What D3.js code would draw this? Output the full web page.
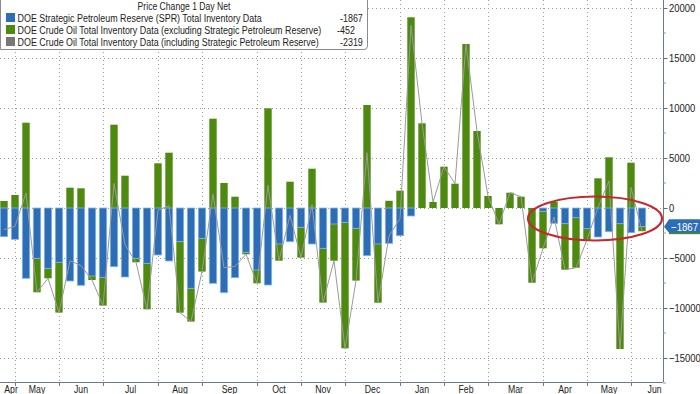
<!DOCTYPE html>
<html>
<head>
<meta charset="utf-8">
<script src="https://cdn.jsdelivr.net/npm/d3@7"></script>
<style>
  body { margin: 0; background: #fff; }
  svg { display: block; }
  text { font-family: "Liberation Sans", Arial, sans-serif; fill: #222; }
</style>
</head>
<body>
<svg id="graphic-svg" width="700" height="394"></svg>
<script>
// weekly observations (week ending)
var weeks = ["2022-04-29",
  "2022-05-06","2022-05-13","2022-05-20","2022-05-27",
  "2022-06-03","2022-06-10","2022-06-17","2022-06-24",
  "2022-07-01","2022-07-08","2022-07-15","2022-07-22","2022-07-29",
  "2022-08-05","2022-08-12","2022-08-19","2022-08-26",
  "2022-09-02","2022-09-09","2022-09-16","2022-09-23","2022-09-30",
  "2022-10-07","2022-10-14","2022-10-21","2022-10-28",
  "2022-11-04","2022-11-11","2022-11-18","2022-11-25",
  "2022-12-02","2022-12-09","2022-12-16","2022-12-23","2022-12-30",
  "2023-01-06","2023-01-13","2023-01-20","2023-01-27",
  "2023-02-03","2023-02-10","2023-02-17","2023-02-24",
  "2023-03-03","2023-03-10","2023-03-17","2023-03-24","2023-03-31",
  "2023-04-07","2023-04-14","2023-04-21","2023-04-28",
  "2023-05-05","2023-05-12","2023-05-19","2023-05-26",
  "2023-06-02","2023-06-09"];

// SPR (blue)
var spr = [-2870,
  -3130,-7030,-5030,-6030,
  -5430,-7300,-7730,-6800,
  -6930,-5870,-6900,-5030,-5530,
  -4700,-5300,-3370,-8030,
  -3030,-7530,-8470,-6970,-4430,
  -6200,-7700,-3600,-3370,
  -1930,-3600,-4030,-1600,
  -1430,-2030,-4770,-3600,-3530,
  -2770,-800,0,0,
  0,0,0,0,
  0,0,0,0,0,
  -330,-1530,-1570,-970,
  -2070,-2900,-2370,-1570,
  -2470,-1867];

// crude excluding SPR (green)
var crudeEx = [700,
  1300,8530,-3400,-1000,
  -5030,2030,1970,-400,
  -2830,8330,3230,-400,-4600,
  4470,5530,-7100,-3330,
  -3330,8930,2500,1130,-200,
  -1330,9970,-1670,2630,
  -3030,3930,-5430,-3670,
  -12600,-5230,10300,-5870,720,
  1730,19070,8470,600,
  4130,2430,16400,7700,
  1200,-1630,1530,1130,-7470,
  -3700,630,-4600,-5000,
  -1100,2970,5070,-12530,
  4530,-452];

// crude including SPR (gray line)
var crudeIncl = [-2170,
  -1830,1500,-8430,-7030,
  -10460,-5270,-5760,-7200,
  -9760,2460,-3670,-5430,-10130,
  -230,230,-10470,-11360,
  -6360,1400,-5970,-5840,-4630,
  -7530,2270,-5270,-740,
  -4960,330,-9460,-5270,
  -14030,-7260,5530,-9470,-2810,
  -1040,18270,8470,600,
  4130,2430,16400,7700,
  1200,-1630,1530,1130,-7470,
  -4030,-900,-6170,-5970,
  -3170,70,2700,-14100,
  2060,-2319];

var yTicks = [-15000, -10000, -5000, 0, 5000, 10000, 15000, 20000];
var legendNames = ["DOE Strategic Petroleum Reserve (SPR) Total Inventory Data",
  "DOE Crude Oil Total Inventory Data (excluding Strategic Petroleum Reserve)",
  "DOE Crude Oil Total Inventory Data (including Strategic Petroleum Reserve)"];
var legendValues = ["-1867", "-452", "-2319"];
var legendTitle = "Price Change 1 Day Net";

// narrow text: no condensed font installed, so squeeze horizontally
function narrowText(parent, tx, ty, size, sx, str) {
  return parent.append("text")
    .attr("transform", "translate(" + tx + "," + ty + ") scale(" + sx + ",1)")
    .style("font-size", size + "px")
    .text(str);
}

function init() {
  var svg = d3.select("#graphic-svg");
  var plot = { left: 0, right: 663, top: 0, bottom: 382 };
  var blue = "#2d6db5", blueEdge = "#86b6e6", green = "#4f8a10", gray = "#9a9a9a";

  var parse = d3.timeParse("%Y-%m-%d");
  var data = weeks.map(function(w, i) {
    return { date: parse(w), key: w, spr: spr[i], crude: crudeEx[i], total: crudeIncl[i] };
  });

  var x = d3.scalePoint().domain(weeks).range([4, 642]);
  var step = x.step();
  var barW = 7.4;
  var y = d3.scaleLinear().domain([-17400, 20800]).range([plot.bottom, plot.top]);

  //////////////////////////////////////////////////////////////////
  // gridlines
  var monthStarts = [];
  data.forEach(function(d, i) {
    if (i == 0 || d.date.getMonth() != data[i-1].date.getMonth()) monthStarts.push(i);
  });

  svg.selectAll(".hgrid")
     .data(yTicks)
     .enter()
     .append("line")
     .attr("x1", plot.left).attr("x2", plot.right)
     .attr("y1", function(d) { return Math.round(y(d)) + 0.5; })
     .attr("y2", function(d) { return Math.round(y(d)) + 0.5; })
     .attr("stroke", "#9a9a9a").attr("stroke-dasharray", "1,3");

  svg.selectAll(".vgrid")
     .data(monthStarts.slice(1))
     .enter()
     .append("line")
     .attr("x1", function(i) { return Math.round(x(weeks[i])) + 0.5; })
     .attr("x2", function(i) { return Math.round(x(weeks[i])) + 0.5; })
     .attr("y1", plot.top).attr("y2", plot.bottom)
     .attr("stroke", "#9a9a9a").attr("stroke-dasharray", "1,3");

  //////////////////////////////////////////////////////////////////
  // stacked bars (diverging)
  var stack = d3.stack().keys(["spr", "crude"]).offset(d3.stackOffsetDiverging);
  var series = stack(data);
  var colors = { spr: blue, crude: green };

  // green first, blue on top
  [series[1], series[0]].forEach(function(s) {
    svg.append("g")
       .selectAll("rect")
       .data(s)
       .enter()
       .append("rect")
       .attr("x", function(d) { return x(d.data.key) - barW / 2; })
       .attr("width", barW)
       .attr("y", function(d) { return y(Math.max(d[0], d[1])); })
       .attr("height", function(d) { return Math.abs(y(d[0]) - y(d[1])); })
       .attr("fill", colors[s.key])
       .attr("stroke", s.key == "spr" ? blueEdge : "none")
       .attr("stroke-width", 0.8);
  });

  // total line
  var line = d3.line()
    .x(function(d) { return x(d.key); })
    .y(function(d) { return y(d.total); });
  svg.append("path")
     .datum(data)
     .attr("d", line)
     .attr("fill", "none")
     .attr("stroke", gray)
     .attr("stroke-width", 1);

  //////////////////////////////////////////////////////////////////
  // axes
  svg.append("line")
     .attr("x1", plot.left).attr("x2", plot.right)
     .attr("y1", plot.bottom + 0.5).attr("y2", plot.bottom + 0.5)
     .attr("stroke", "#6b7b8c");
  svg.append("line")
     .attr("x1", plot.right + 0.5).attr("x2", plot.right + 0.5)
     .attr("y1", plot.top).attr("y2", plot.bottom)
     .attr("stroke", "#6b7b8c");

  var yAxis = d3.axisRight(y).tickValues(yTicks).tickSize(4).tickFormat("");
  var gy = svg.append("g").attr("transform", "translate(" + (plot.right + 0.5) + ",0)").call(yAxis);
  gy.select(".domain").remove();
  gy.selectAll(".tick line").attr("stroke", "#4f6f90");
  yTicks.forEach(function(v) {
    narrowText(svg, plot.right + 6, y(v) + 4, 11, 0.86, d3.format("d")(v));
  });

  // minor ticks
  var minor = d3.range(-17500, 20001, 2500).filter(function(v) { return yTicks.indexOf(v) < 0 && y(v) > 2; });
  svg.selectAll(".minor")
     .data(minor)
     .enter()
     .append("line")
     .attr("x1", plot.right).attr("x2", plot.right + 3)
     .attr("y1", function(d) { return y(d); }).attr("y2", function(d) { return y(d); })
     .attr("stroke", "#8aa0b5");

  // month ticks + labels
  svg.selectAll(".xtick")
     .data(monthStarts.slice(1))
     .enter()
     .append("line")
     .attr("x1", function(i) { return Math.round(x(weeks[i])) + 0.5; })
     .attr("x2", function(i) { return Math.round(x(weeks[i])) + 0.5; })
     .attr("y1", plot.bottom).attr("y2", plot.bottom + 4)
     .attr("stroke", "#6b7b8c");

  var fmtMonth = d3.timeFormat("%b");
  monthStarts.forEach(function(i, k) {
    var start = k == 0 ? plot.left : x(weeks[i]);
    var end = k < monthStarts.length - 1 ? x(weeks[monthStarts[k+1]]) : x(weeks[i]) + step * 4.3;
    var cx = Math.max((start + end) / 2, 11);
    narrowText(svg, cx, 392.5, 11.5, 0.76, fmtMonth(data[i].date)).attr("text-anchor", "middle");
  });

  //////////////////////////////////////////////////////////////////
  // last value label on axis
  var last = data[data.length - 1];
  var ly = y(last.spr);
  svg.append("rect")
     .attr("x", plot.right + 6).attr("y", ly + 3).attr("width", 700 - plot.right - 6).attr("height", 4.5)
     .attr("fill", green);
  svg.append("path")
     .attr("d", "M" + (plot.right + 1) + "," + ly + " L" + (plot.right + 6) + "," + (ly - 7.5) +
                " L700," + (ly - 7.5) + " L700," + (ly + 6) + " L" + (plot.right + 6) + "," + (ly + 6) + " Z")
     .attr("fill", blue);
  narrowText(svg, plot.right + 8, ly + 4, 11.5, 0.84, d3.format("d")(last.spr)).style("fill", "#fff");

  // red highlight ellipse
  svg.append("ellipse")
     .attr("cx", 595).attr("cy", 218.5).attr("rx", 67).attr("ry", 22)
     .attr("fill", "none").attr("stroke", "#c7272d").attr("stroke-width", 2.2);

  //////////////////////////////////////////////////////////////////
  // legend
  var lg = svg.append("g");
  lg.append("path")
    .attr("d", "M0.5,-1 L0.5,49.5 L364,49.5 Q367.5,49.5 367.5,46 L367.5,-1")
    .attr("fill", "#fff").attr("stroke", "#8c8c8c");
  narrowText(lg, 184, 9.5, 10.5, 0.82, legendTitle).attr("text-anchor", "middle");
  var swatch = [blue, green, "#777"];
  legendNames.forEach(function(name, i) {
    var cy = 17.5 + i * 12;
    lg.append("rect")
      .attr("x", 6).attr("y", cy - 4.5).attr("width", 9).attr("height", 9)
      .attr("fill", swatch[i]);
    narrowText(lg, 17.5, cy + 4, 11.3, 0.79, name);
    narrowText(lg, i == 1 ? 337 : 340, cy + 4, 11.3, 0.79, legendValues[i]);
  });
};

init();
</script>
</body>
</html>
